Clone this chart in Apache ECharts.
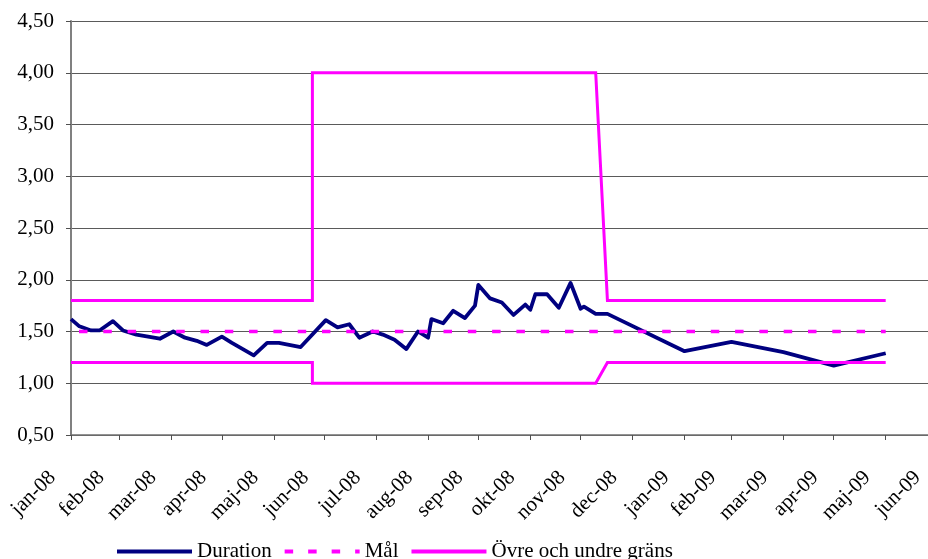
<!DOCTYPE html>
<html>
<head>
<meta charset="utf-8">
<script src="https://cdn.jsdelivr.net/npm/echarts@6/dist/echarts.min.js"></script>
<style>
  html, body { margin: 0; padding: 0; background: #fff; }
  #chart { width: 928px; height: 559px; }
</style>
</head>
<body>
<div id="chart"></div>
<script>
// Duration of the portfolio, observation dates and values
const durationDates = [
  '2008-01-31','2008-02-05','2008-02-12','2008-02-17','2008-02-25','2008-03-02','2008-03-10','2008-03-24',
  '2008-04-01','2008-04-08','2008-04-15','2008-04-21','2008-04-30','2008-05-06','2008-05-19','2008-05-27',
  '2008-06-03','2008-06-16','2008-07-01','2008-07-08','2008-07-15','2008-07-21','2008-07-29','2008-08-04',
  '2008-08-11','2008-08-18','2008-08-25','2008-08-31','2008-09-02','2008-09-09','2008-09-15','2008-09-22',
  '2008-09-28','2008-09-30','2008-10-07','2008-10-14','2008-10-21','2008-10-28','2008-10-31','2008-11-03',
  '2008-11-10','2008-11-17','2008-11-24','2008-11-30','2008-12-02','2008-12-09','2008-12-16','2009-01-31',
  '2009-02-28','2009-03-31','2009-04-30','2009-05-31'
];
const durationValues = [
  1.62, 1.55, 1.51, 1.51, 1.60, 1.51, 1.47, 1.43,
  1.50, 1.44, 1.41, 1.37, 1.45, 1.39, 1.27, 1.39,
  1.39, 1.35, 1.61, 1.54, 1.57, 1.44, 1.50, 1.47,
  1.42, 1.33, 1.50, 1.44, 1.62, 1.58, 1.70, 1.63,
  1.75, 1.95, 1.82, 1.78, 1.66, 1.76, 1.71, 1.86,
  1.86, 1.73, 1.97, 1.72, 1.74, 1.67, 1.67, 1.31,
  1.40, 1.30, 1.17, 1.29
];

// Target (Mål)
const targetDates = ['2008-01-31', '2009-05-31'];
const targetValues = [1.5, 1.5];

// Upper and lower limits
const limitDates = ['2008-01-31', '2008-06-23', '2008-06-23', '2008-12-09', '2008-12-16', '2009-05-31'];
const upperValues = [1.8, 1.8, 4.0, 4.0, 1.8, 1.8];
const lowerValues = [1.2, 1.2, 1.0, 1.0, 1.2, 1.2];

// Month-end tick dates and Swedish month abbreviations
const monthTicks = [
  '2008-01-31','2008-02-29','2008-03-31','2008-04-30','2008-05-31','2008-06-30',
  '2008-07-31','2008-08-31','2008-09-30','2008-10-31','2008-11-30','2008-12-31',
  '2009-01-31','2009-02-28','2009-03-31','2009-04-30','2009-05-31','2009-06-30'
];
const monthNames = ['jan','feb','mar','apr','maj','jun','jul','aug','sep','okt','nov','dec'];

const ts = s => Date.parse(s + 'T00:00:00Z');
const pairs = (dates, vals) => dates.map((d, i) => [ts(d), vals[i]]);

const FONT = '"Liberation Serif", "Times New Roman", serif';
const PINK = '#FF00FF';
const NAVY = '#000080';
const tickValues = monthTicks.map(ts);

const chart = echarts.init(document.getElementById('chart'), null, { renderer: 'canvas' });
chart.setOption({
  animation: false,
  backgroundColor: '#ffffff',
  grid: { left: 71, right: -8, top: 21, bottom: 124, containLabel: false, outerBoundsMode: 'none' },
  legend: {
    left: 110,
    top: 536,
    itemWidth: 75,
    itemHeight: 14,
    itemGap: 11,
    selectedMode: false,
    itemStyle: { opacity: 0 },
    textStyle: { fontFamily: FONT, fontSize: 21, color: '#000' },
    data: [
      { name: 'Duration', textStyle: { width: 81 }, lineStyle: { width: 4 } },
      { name: 'Mål', textStyle: { width: 35 }, lineStyle: { width: 4, type: [8.5, 15], dashOffset: 0 } },
      { name: 'Övre och undre gräns', lineStyle: { width: 4 } }
    ]
  },
  xAxis: {
    type: 'value',
    min: tickValues[0],
    max: tickValues[tickValues.length - 1],
    axisLine: { show: true, onZero: false, lineStyle: { color: '#707070', width: 1.5 } },
    axisTick: { show: true, customValues: tickValues, length: 5, lineStyle: { color: '#505050', width: 1 } },
    splitLine: { show: false },
    axisLabel: {
      customValues: tickValues,
      showMinLabel: true,
      showMaxLabel: true,
      rotate: 45,
      margin: 21,
      padding: [0, 26, 0, 0],
      fontFamily: FONT,
      fontSize: 21,
      color: '#000',
      formatter: v => {
        const d = new Date(v);
        return monthNames[d.getUTCMonth()] + '-' + String(d.getUTCFullYear()).slice(2);
      }
    }
  },
  yAxis: {
    type: 'value',
    min: 0.5,
    max: 4.5,
    interval: 0.5,
    axisLine: { show: true, onZero: false, lineStyle: { color: '#808080', width: 2 } },
    axisTick: { show: true, length: 5, lineStyle: { color: '#505050', width: 1 } },
    splitLine: { show: true, lineStyle: { color: '#5a5a5a', width: 1 } },
    axisLabel: {
      margin: 17,
      fontFamily: FONT,
      fontSize: 21,
      color: '#000',
      formatter: v => v.toFixed(2).replace('.', ',')
    }
  },
  series: [
    {
      name: 'Duration',
      type: 'line',
      data: pairs(durationDates, durationValues),
      symbol: 'none',
      color: NAVY,
      lineStyle: { color: NAVY, width: 3.8, join: 'round' }
    },
    {
      name: 'Mål',
      type: 'line',
      data: pairs(targetDates, targetValues),
      symbol: 'none',
      color: PINK,
      lineStyle: { color: PINK, width: 3.5, type: [8.5, 15.8], dashOffset: 16.3, cap: 'butt' }
    },
    {
      name: 'Övre och undre gräns',
      type: 'line',
      data: pairs(limitDates, upperValues),
      symbol: 'none',
      color: PINK,
      lineStyle: { color: PINK, width: 3, join: 'miter' }
    },
    {
      name: 'Övre och undre gräns',
      type: 'line',
      data: pairs(limitDates, lowerValues),
      symbol: 'none',
      color: PINK,
      lineStyle: { color: PINK, width: 3, join: 'miter' }
    }
  ]
});
</script>
</body>
</html>
